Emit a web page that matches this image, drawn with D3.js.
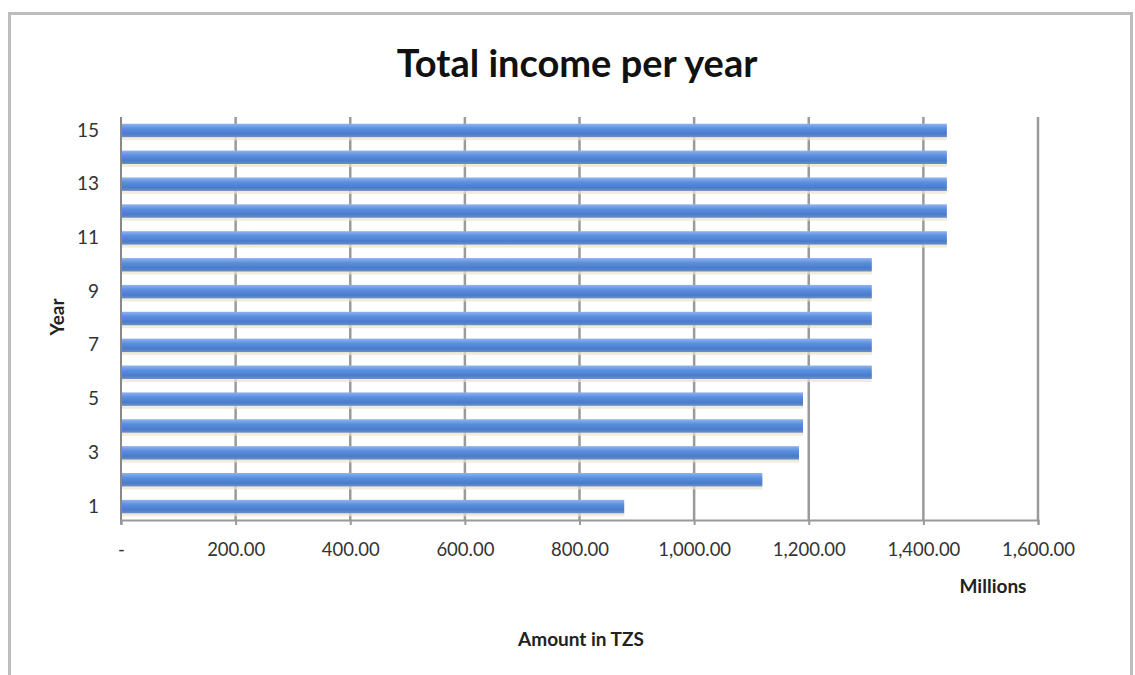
<!DOCTYPE html>
<html>
<head>
<meta charset="utf-8">
<script src="https://cdn.jsdelivr.net/npm/d3@7/dist/d3.min.js"></script>
<style>
  html, body { margin: 0; padding: 0; background: #fff; }
  svg { display: block; }
</style>
</head>
<body>
<svg id="chart" width="1135" height="675"></svg>
<script>
// Total income per year (millions of TZS)
const years = [1, 2, 3, 4, 5, 6, 7, 8, 9, 10, 11, 12, 13, 14, 15];
const income = [878, 1119, 1183, 1190, 1190, 1310, 1310, 1310, 1310, 1310, 1441, 1441, 1441, 1441, 1441];
const xTicks = [0, 200, 400, 600, 800, 1000, 1200, 1400, 1600];
const yLabelYears = [1, 3, 5, 7, 9, 11, 13, 15];

const svg = d3.select("#chart");
const font = "Lato, 'Open Sans', sans-serif";

// Outer frame
svg.append("rect")
  .attr("x", 9.5).attr("y", 13.5)
  .attr("width", 1122).attr("height", 700)
  .attr("fill", "#fff")
  .attr("stroke", "#bdbdbd").attr("stroke-width", 3);

const plot = { left: 121, right: 1038, top: 117, bottom: 520 };

const x = d3.scaleLinear().domain([0, 1600]).range([plot.left, plot.right]);
const y = d3.scaleBand().domain(years.slice().reverse()).range([plot.top, plot.bottom]).paddingInner(0.5).paddingOuter(0.25);

// Bar gradient
const defs = svg.append("defs");
const grad = defs.append("linearGradient").attr("id", "barGrad")
  .attr("x1", 0).attr("y1", 0).attr("x2", 0).attr("y2", 1);
grad.append("stop").attr("offset", "0%").attr("stop-color", "#8fb4ee");
grad.append("stop").attr("offset", "35%").attr("stop-color", "#5b8fe0");
grad.append("stop").attr("offset", "75%").attr("stop-color", "#4a7cca");
grad.append("stop").attr("offset", "100%").attr("stop-color", "#6e8fc4");
const blur = defs.append("filter").attr("id", "soft").attr("x", "-5%").attr("y", "-50%").attr("width", "110%").attr("height", "200%");
blur.append("feGaussianBlur").attr("stdDeviation", 0.7);

// Vertical gridlines
svg.append("g")
  .selectAll("line")
  .data(xTicks.slice(1))
  .join("line")
  .attr("x1", d => x(d)).attr("x2", d => x(d))
  .attr("y1", plot.top).attr("y2", plot.bottom)
  .attr("stroke", "#9a9a9a").attr("stroke-width", 2.5);

// Bar shadows
svg.append("g")
  .selectAll("rect")
  .data(years)
  .join("rect")
  .attr("x", x(0))
  .attr("y", d => y(d) + 3)
  .attr("width", (d, i) => x(income[i]) - x(0))
  .attr("height", y.bandwidth())
  .attr("fill", "#ebe3cc")
  .attr("opacity", 0.7)
  .attr("filter", "url(#soft)");

// Bars
svg.append("g")
  .selectAll("rect")
  .data(years)
  .join("rect")
  .attr("x", x(0))
  .attr("y", d => y(d))
  .attr("width", (d, i) => x(income[i]) - x(0))
  .attr("height", y.bandwidth())
  .attr("fill", "url(#barGrad)")
  .attr("filter", "url(#soft)");

// Axis lines
svg.append("line")
  .attr("x1", plot.left).attr("x2", plot.left)
  .attr("y1", plot.top).attr("y2", plot.bottom + 4)
  .attr("stroke", "#888").attr("stroke-width", 2);

const xAxis = d3.axisBottom(x)
  .tickValues(xTicks)
  .tickSize(5)
  .tickPadding(18)
  .tickFormat(d => d === 0 ? "-" : d3.format(",.2f")(d));

const gx = svg.append("g")
  .attr("transform", `translate(0,${plot.bottom})`)
  .call(xAxis);
gx.select(".domain").attr("stroke", "#999").attr("stroke-width", 2);
gx.selectAll(".tick line").attr("stroke", "#999").attr("stroke-width", 2);
gx.selectAll(".tick text")
  .attr("fill", "#333")
  .style("font-family", font)
  .style("font-size", "18.5px");

// Year labels (every other year)
const yAxis = d3.axisLeft(y)
  .tickValues(yLabelYears)
  .tickSize(0)
  .tickPadding(22);
const gy = svg.append("g")
  .attr("transform", `translate(${plot.left},0)`)
  .call(yAxis);
gy.select(".domain").remove();
gy.selectAll(".tick text")
  .attr("fill", "#333")
  .style("font-family", font)
  .style("font-size", "19px");

// Title and axis titles
svg.append("text")
  .attr("x", 577).attr("y", 77)
  .attr("text-anchor", "middle")
  .style("font-family", font)
  .style("font-weight", "bold")
  .style("font-size", "38px")
  .attr("fill", "#111")
  .text("Total income per year");

svg.append("text")
  .attr("transform", "translate(64,317) rotate(-90)")
  .attr("text-anchor", "middle")
  .style("font-family", font)
  .style("font-weight", "bold")
  .style("font-size", "19px")
  .attr("fill", "#222")
  .text("Year");

svg.append("text")
  .attr("x", 993).attr("y", 593)
  .attr("text-anchor", "middle")
  .style("font-family", font)
  .style("font-weight", "bold")
  .style("font-size", "19px")
  .attr("fill", "#222")
  .text("Millions");

svg.append("text")
  .attr("x", 581).attr("y", 646)
  .attr("text-anchor", "middle")
  .style("font-family", font)
  .style("font-weight", "bold")
  .style("font-size", "19px")
  .attr("fill", "#222")
  .text("Amount in TZS");
</script>
</body>
</html>
